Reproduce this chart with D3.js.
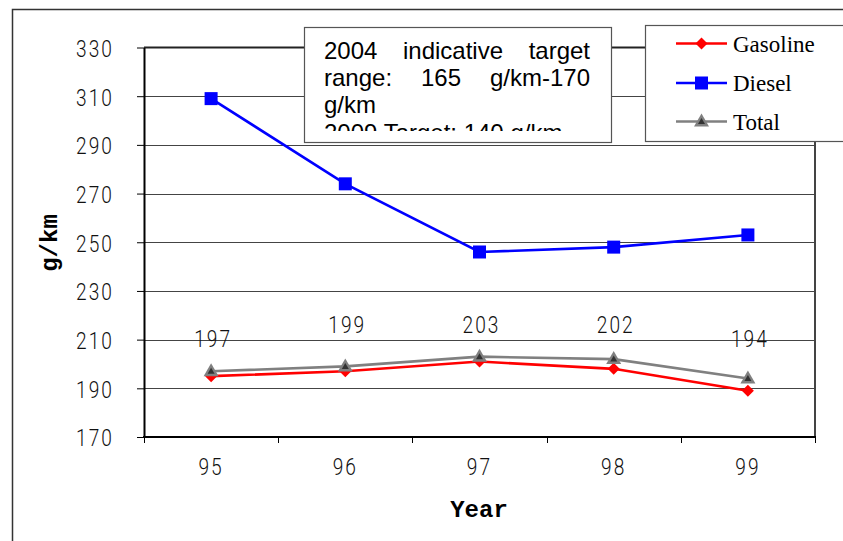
<!DOCTYPE html>
<html>
<head>
<meta charset="utf-8">
<script src="https://cdn.jsdelivr.net/npm/d3@7"></script>
<style>
  html, body { margin: 0; padding: 0; background: #fff; }
  svg { display: block; }
  .num { font-family: Roboto, "Liberation Sans", sans-serif; font-weight: 300; font-size: 24.5px; letter-spacing: 2.6px; fill: #111; }
  .title { font-family: "Liberation Mono", "DejaVu Sans Mono", monospace; font-weight: bold; font-size: 24px; fill: #000; }
  .legend { font-family: "Liberation Serif", "Times New Roman", serif; font-size: 23px; fill: #000; }
  .note { font-family: "Liberation Sans", Arial, sans-serif; font-size: 24px; fill: #000; }
</style>
</head>
<body>
<svg id="chart" width="843" height="541"></svg>
<script>
// Average CO2 emissions of new cars by fuel type, model years 95–99
const years = ["95", "96", "97", "98", "99"];
const gasoline = [195, 197, 201, 198, 189];
const diesel = [309, 274, 246, 248, 253];
const total = [197, 199, 203, 202, 194];
const yTicks = [170, 190, 210, 230, 250, 270, 290, 310, 330];
const seriesNames = ["Gasoline", "Diesel", "Total"];
const noteLines = [
  { words: ["2004", "indicative", "target"], justify: true },
  { words: ["range:", "165", "g/km-170"], justify: true },
  { words: ["g/km"], justify: false },
  { words: ["2009 Target: 140 g/km"], justify: false }
];
// how far each total label sits above its point (px)
const totalLabelLift = [24, 33, 24, 26, 32];

const svg = d3.select("#chart");
const plot = { left: 144, right: 815, top: 47.5, bottom: 437 };
const numScale = 0.78;

const x = d3.scaleBand().domain(years).range([plot.left, plot.right]);
const y = d3.scaleLinear().domain([170, 330]).range([plot.bottom, plot.top]);
const cx = d => x(d) + x.bandwidth() / 2;

// outer chart frame (runs off the right and bottom edges)
svg.append("rect")
  .attr("x", 12.5).attr("y", 9.5).attr("width", 900).attr("height", 600)
  .attr("fill", "none").attr("stroke", "#333").attr("stroke-width", 1.5);

// horizontal gridlines
svg.append("g").selectAll("line")
  .data(yTicks.filter(t => t > 170 && t < 330))
  .join("line")
  .attr("x1", plot.left).attr("x2", plot.right)
  .attr("y1", d => Math.round(y(d)) + 0.5).attr("y2", d => Math.round(y(d)) + 0.5)
  .attr("stroke", "#444").attr("stroke-width", 1);

// plot frame: top and right borders
svg.append("line").attr("x1", plot.left).attr("x2", plot.right)
  .attr("y1", y(330)).attr("y2", y(330)).attr("stroke", "#222").attr("stroke-width", 2);
svg.append("line").attr("x1", plot.right).attr("x2", plot.right)
  .attr("y1", plot.top).attr("y2", plot.bottom).attr("stroke", "#444").attr("stroke-width", 2);

// y axis
const yAxis = svg.append("g")
  .attr("transform", `translate(${plot.left},0)`)
  .call(d3.axisLeft(y).tickValues(yTicks).tickSize(7).tickSizeOuter(0).tickFormat(d3.format("d")));
yAxis.select(".domain").attr("stroke", "#000").attr("stroke-width", 2);
yAxis.selectAll(".tick line").attr("stroke", "#000").attr("stroke-width", 1);
yAxis.selectAll(".tick text")
  .attr("class", "num")
  .attr("font-family", null).attr("font-size", null)
  .attr("transform", `scale(${numScale},1)`)
  .attr("x", -30 / numScale)
  .attr("dy", "0.36em")
  .attr("text-anchor", "end");

// x axis: baseline, boundary ticks and centred year labels
const xAxisG = svg.append("g");
xAxisG.append("line").attr("x1", plot.left - 1).attr("x2", plot.right + 1)
  .attr("y1", plot.bottom).attr("y2", plot.bottom).attr("stroke", "#000").attr("stroke-width", 2);
const bounds = years.map(d => x(d)).concat([x(years[years.length - 1]) + x.bandwidth()]);
xAxisG.selectAll("line.bt").data(bounds).join("line").attr("class", "bt")
  .attr("x1", d => Math.round(d) + 0.5).attr("x2", d => Math.round(d) + 0.5)
  .attr("y1", plot.bottom).attr("y2", plot.bottom + 6)
  .attr("stroke", "#000").attr("stroke-width", 1);
xAxisG.selectAll("text").data(years).join("text")
  .attr("class", "num")
  .attr("text-anchor", "middle")
  .attr("transform", `scale(${numScale},1)`)
  .attr("x", d => cx(d) / numScale)
  .attr("y", 475)
  .text(d => d);

// axis titles
svg.append("text").attr("class", "title").attr("text-anchor", "middle")
  .attr("x", 479).attr("y", 517).text("Year");
svg.append("text").attr("class", "title").attr("text-anchor", "middle")
  .attr("transform", "translate(57,243) rotate(-90)").text("g/km");

// series lines
const line = vals => d3.line().x((d, i) => cx(years[i])).y(d => y(d))(vals);
svg.append("path").attr("d", line(total)).attr("fill", "none")
  .attr("stroke", "#808080").attr("stroke-width", 2.6);
svg.append("path").attr("d", line(gasoline)).attr("fill", "none")
  .attr("stroke", "#ff0000").attr("stroke-width", 2.6);
svg.append("path").attr("d", line(diesel)).attr("fill", "none")
  .attr("stroke", "#0000ff").attr("stroke-width", 2.6);

// marker shapes
function diamond(g, px, py) {
  g.append("path").attr("d", `M${px},${py - 6}L${px + 6},${py}L${px},${py + 6}L${px - 6},${py}Z`)
    .attr("fill", "#ff0000");
}
function square(g, px, py) {
  g.append("rect").attr("x", px - 6.5).attr("y", py - 6.5).attr("width", 13).attr("height", 13)
    .attr("fill", "#0000ff");
}
function triangle(g, px, py) {
  g.append("path").attr("d", `M${px},${py - 8}L${px + 7.5},${py + 5}L${px - 7.5},${py + 5}Z`)
    .attr("fill", "#808080");
  g.append("path").attr("d", `M${px},${py - 3.5}L${px + 3.5},${py + 2.5}L${px - 3.5},${py + 2.5}Z`)
    .attr("fill", "#333");
}

const marks = svg.append("g");
gasoline.forEach((v, i) => diamond(marks, cx(years[i]), y(v)));
diesel.forEach((v, i) => square(marks, cx(years[i]), y(v)));
total.forEach((v, i) => triangle(marks, cx(years[i]), y(v)));

// value labels for the total series
svg.append("g").selectAll("text").data(total).join("text")
  .attr("class", "num").attr("text-anchor", "middle")
  .attr("transform", `scale(${numScale},1)`)
  .attr("x", (d, i) => (cx(years[i]) + 2) / numScale)
  .attr("y", (d, i) => y(d) - totalLabelLift[i])
  .text(d => d);

// target note box
const note = { x: 304.5, y: 27.5, w: 307, h: 115 };
svg.append("defs").append("clipPath").attr("id", "noteClip")
  .append("rect").attr("x", note.x).attr("y", note.y).attr("width", note.w).attr("height", 103.5);
svg.append("rect").attr("x", note.x).attr("y", note.y).attr("width", note.w).attr("height", note.h)
  .attr("fill", "#fff").attr("stroke", "#555").attr("stroke-width", 1.2);
const noteG = svg.append("g").attr("clip-path", "url(#noteClip)");
const textLeft = 324, textRight = 590, firstBase = 59, lineGap = 27.2;
noteLines.forEach((ln, li) => {
  const by = firstBase + li * lineGap;
  if (!ln.justify) {
    noteG.append("text").attr("class", "note").attr("x", textLeft).attr("y", by).text(ln.words.join(" "));
    return;
  }
  const nodes = ln.words.map(w => noteG.append("text").attr("class", "note").attr("y", by).text(w));
  const widths = nodes.map(n => n.node().getComputedTextLength());
  const gap = (textRight - textLeft - d3.sum(widths)) / (ln.words.length - 1);
  let px = textLeft;
  nodes.forEach((n, k) => { n.attr("x", px); px += widths[k] + gap; });
});

// legend
const leg = svg.append("g");
leg.append("rect").attr("x", 645.5).attr("y", 25.5).attr("width", 260).attr("height", 116)
  .attr("fill", "#fff").attr("stroke", "#555").attr("stroke-width", 1.2);
const legColors = ["#ff0000", "#0000ff", "#808080"];
const legMarkers = [diamond, square, triangle];
const legY = [43.5, 83, 121.5];
seriesNames.forEach((name, i) => {
  leg.append("line").attr("x1", 676).attr("x2", 727).attr("y1", legY[i]).attr("y2", legY[i])
    .attr("stroke", legColors[i]).attr("stroke-width", 2.6);
  legMarkers[i](leg, 701.5, legY[i]);
  leg.append("text").attr("class", "legend").attr("x", 733).attr("y", legY[i] + 8).text(name);
});
</script>
</body>
</html>
